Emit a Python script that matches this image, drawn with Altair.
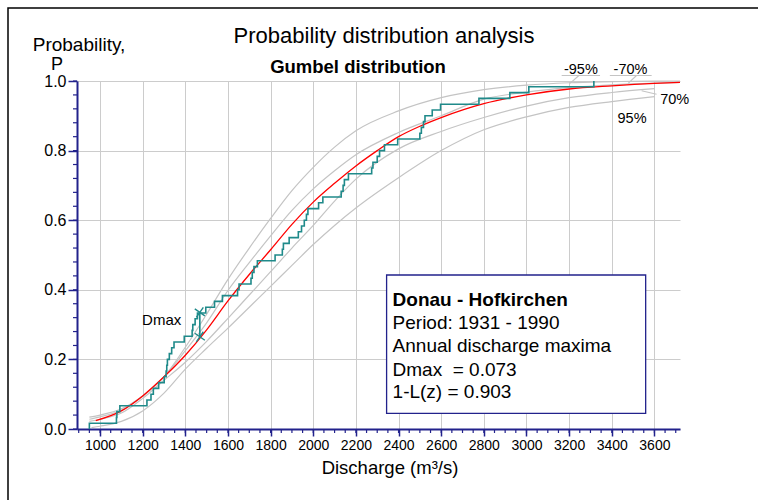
import altair as alt
import pandas as pd

# ---------------- data ----------------
# sorted annual discharge maxima (m3/s), 1931-1990
discharge_sorted = [950, 1077, 1079, 1093, 1220, 1239, 1250, 1275, 1301, 1310,
                    1313, 1316, 1325, 1336, 1347, 1395, 1432, 1435, 1446, 1457,
                    1496, 1537, 1574, 1645, 1652, 1708, 1714, 1722, 1738, 1821,
                    1855, 1860, 1887, 1930, 1945, 1958, 1968, 1975, 2025, 2045,
                    2131, 2140, 2146, 2165, 2274, 2280, 2300, 2311, 2334, 2396,
                    2500, 2507, 2517, 2524, 2558, 2597, 2777, 2922, 3011, 3316]

# fitted Gumbel curve (red)
red_x = [980, 1100, 1200, 1300, 1400, 1500, 1600, 1700, 1800, 1900, 2000, 2100,
         2200, 2300, 2400, 2500, 2600, 2800, 3000, 3200, 3400, 3600, 3720]
red_p = [0.024, 0.052, 0.095, 0.150, 0.212, 0.285, 0.368, 0.444, 0.515, 0.588,
         0.652, 0.706, 0.756, 0.800, 0.840, 0.870, 0.895, 0.935, 0.960, 0.977,
         0.986, 0.993, 0.996]

# confidence curves (grey)
gx = [950, 1000, 1100, 1200, 1300, 1400, 1500, 1600, 1700, 1800, 1900, 2000,
      2100, 2200, 2400, 2600, 2800, 3000, 3200, 3400, 3600, 3720]
g95u_p = [0.034, 0.040, 0.058, 0.095, 0.150, 0.235, 0.330, 0.430, 0.520, 0.605,
          0.685, 0.752, 0.810, 0.857, 0.914, 0.952, 0.975, 0.988, 0.995, 0.998,
          1.0, 1.0]
g70u_p = [0.028, 0.035, 0.054, 0.094, 0.150, 0.225, 0.305, 0.398, 0.478, 0.555,
          0.628, 0.690, 0.742, 0.788, 0.852, 0.900, 0.948, 0.968, 0.981, 0.989,
          0.994, 0.996]
g70l_x = [950, 1000, 1100, 1200, 1300, 1400, 1500, 1600, 1700, 1800, 1900, 2000,
          2100, 2200, 2400, 2600, 2800, 3000, 3200, 3400, 3600]
g70l_p = [0.022, 0.028, 0.046, 0.088, 0.140, 0.192, 0.252, 0.318, 0.385, 0.452,
          0.520, 0.585, 0.655, 0.718, 0.805, 0.855, 0.895, 0.928, 0.952, 0.967,
          0.978]
g95l_x = [960, 1000, 1100, 1200, 1300, 1400, 1500, 1600, 1700, 1800, 1900, 2000,
          2100, 2200, 2400, 2600, 2800, 3000, 3200, 3400, 3600]
g95l_p = [0.004, 0.008, 0.022, 0.052, 0.103, 0.172, 0.232, 0.290, 0.350, 0.410,
          0.470, 0.530, 0.585, 0.635, 0.722, 0.800, 0.860, 0.897, 0.924, 0.941,
          0.955]

x_ticks = [1000, 1200, 1400, 1600, 1800, 2000, 2200, 2400, 2600, 2800, 3000,
           3200, 3400, 3600]
y_ticks = [0.0, 0.2, 0.4, 0.6, 0.8, 1.0]
x_minor = list(range(900, 3701, 50))
y_minor = [round(i * 0.04, 2) for i in range(26)]

dmax_x = 1468
dmax_lo = 0.265
dmax_hi = 0.335

legend_lines = ["Donau - Hofkirchen", "Period: 1931 - 1990",
                "Annual discharge maxima", "Dmax\u00a0 = 0.073", "1-L(z) = 0.903"]

# ---------------- styling ----------------
FONT = "Liberation Sans"
NAVY = "#22228c"
GRID = "#cccccc"
GREYC = "#c4c4c4"
TEAL = "#1f8a8a"

W, H = 603, 348
XS = alt.Scale(domain=[892, 3720], nice=False, zero=False)
YS = alt.Scale(domain=[0, 1], nice=False, zero=False)

x_axis = alt.Axis(values=x_ticks, title=None, format="d", grid=True, gridColor=GRID,
                  gridWidth=1, tickSize=7, tickColor=NAVY, tickWidth=1.5,
                  domainColor=NAVY, domainWidth=2, labelFont=FONT, labelFontSize=14,
                  labelColor="black", labelPadding=2, labelFlush=False,
                  labelOverlap=False)
y_axis = alt.Axis(values=y_ticks, title=None, format=".1f", grid=True, gridColor=GRID,
                  gridWidth=1, tickSize=9, tickColor=NAVY, tickWidth=1.5,
                  domainColor=NAVY, domainWidth=2, labelFont=FONT, labelFontSize=16,
                  labelColor="black", labelPadding=2, labelFlush=False)


def X(field="x"):
    return alt.X(f"{field}:Q", scale=XS, axis=x_axis)


def Y(field="p"):
    return alt.Y(f"{field}:Q", scale=YS, axis=y_axis)


# grey confidence curves
rows = []
for name, xs, ps in [("-95%", gx, g95u_p), ("-70%", gx, g70u_p),
                     ("70%", g70l_x, g70l_p), ("95%", g95l_x, g95l_p)]:
    for xv, pv in zip(xs, ps):
        rows.append({"x": xv, "p": pv, "curve": name})
grey_df = pd.DataFrame(rows)

grey = alt.Chart(grey_df).mark_line(color=GREYC, strokeWidth=1.2, interpolate="monotone").encode(
    x=X(), y=Y(), detail="curve:N")

red_df = pd.DataFrame({"x": red_x, "p": red_p})
red = alt.Chart(red_df).mark_line(color="#ff0000", strokeWidth=1.3, interpolate="monotone").encode(
    x=X(), y=Y())

# empirical distribution (step line)
n = len(discharge_sorted)
step_df = pd.DataFrame({"x": [discharge_sorted[0]] + discharge_sorted,
                        "p": [0.0] + [(i + 1) / n for i in range(n)]})
step_df["i"] = range(len(step_df))
step = alt.Chart(step_df).mark_line(color=TEAL, strokeWidth=1.6, interpolate="step-after").encode(
    x=X(), y=Y(), order="i:Q")

# Dmax marker
dmax_df = pd.DataFrame({"x": [dmax_x], "p": [dmax_lo], "p2": [dmax_hi]})
dmax_rule = alt.Chart(dmax_df).mark_rule(color=TEAL, strokeWidth=1.6).encode(
    x=X(), y=Y(), y2="p2:Q")
cross_df = pd.DataFrame({"x": [dmax_x, dmax_x], "p": [dmax_lo, dmax_hi]})
crosses = alt.Chart(cross_df).mark_point(
    shape="M-1,0L1,0M0,-1L0,1", size=150, angle=35, filled=False,
    color=TEAL, strokeWidth=1.4, opacity=1).encode(x=X(), y=Y())

dmax_lbl = alt.Chart(pd.DataFrame({"x": [1289], "p": [0.299], "t": ["Dmax"]})).mark_text(
    font=FONT, fontSize=15, color="black", align="center", baseline="alphabetic").encode(
    x=X(), y=Y(), text="t:N")

# minor ticks
xminor = alt.Chart(pd.DataFrame({"x": x_minor})).mark_rule(color=NAVY, strokeWidth=1.2).encode(
    x=X(), y=alt.value(H), y2=alt.value(H + 4))
yminor = alt.Chart(pd.DataFrame({"p": y_minor})).mark_rule(color=NAVY, strokeWidth=1.2).encode(
    y=Y(), x=alt.value(-4), x2=alt.value(0))

# percent labels and leader lines
pct_df = pd.DataFrame({"x": [3255, 3488, 3695, 3495], "p": [1.0187, 1.0187, 0.934, 0.879],
                       "t": ["-95%", "-70%", "70%", "95%"]})
pct = alt.Chart(pct_df).mark_text(font=FONT, fontSize=14.5, color="black", align="center",
                                  baseline="alphabetic").encode(x=X(), y=Y(), text="t:N")
lead_df = pd.DataFrame({"x": [3204, 3165, 3477, 3391, 3540],
                        "x2": [3246, 3345, 3516, 3587, 3610],
                        "p": [0.9934, 1.0158, 0.9934, 1.0158, 0.972],
                        "p2": [1.0158, 1.0158, 1.0158, 1.0158, 0.962]})
leads = alt.Chart(lead_df).mark_rule(color=GREYC, strokeWidth=1.1).encode(
    x=X(), x2="x2:Q", y=Y(), y2="p2:Q")

# info box
box = alt.Chart(pd.DataFrame({"x": [2344], "x2": [3559], "p": [0.4425], "p2": [0.0451]})).mark_rect(
    fill="white", stroke=NAVY, strokeWidth=1.3).encode(x=X(), x2="x2:Q", y=Y(), y2="p2:Q")
box_bold = alt.Chart(pd.DataFrame({"x": [2372], "p": [0.3543], "t": [legend_lines[0]]})).mark_text(
    font=FONT, fontSize=19, fontWeight="bold", color="black", align="left",
    baseline="alphabetic").encode(x=X(), y=Y(), text="t:N")
box_txt = alt.Chart(pd.DataFrame({"x": [2372] * 4, "p": [0.2874, 0.2221, 0.1532, 0.0882],
                                  "t": legend_lines[1:]})).mark_text(
    font=FONT, fontSize=19, color="black", align="left", baseline="alphabetic").encode(
    x=X(), y=Y(), text="t:N")


# titles (outside the plot area; positions relative to the plot's top-left corner)
def label(text, px, py, size, weight="normal", align="center"):
    return alt.Chart(pd.DataFrame({"t": [text]})).mark_text(
        font=FONT, fontSize=size, fontWeight=weight, color="black", align=align,
        baseline="alphabetic").encode(x=alt.value(px), y=alt.value(py), text="t:N")


title = label("Probability distribution analysis", 307, -38, 22)
subtitle = label("Gumbel distribution", 281, -8, 18.5, weight="bold")
ylab1 = label("Probability,", 2, -30, 19)
ylab2 = label("P", -20, -11, 18)
xlab = label("Discharge (m\u00b3/s)", 313, 393, 18.5)

frame = alt.Chart(pd.DataFrame({"t": [0]})).mark_rect(
    fill=None, stroke="black", strokeWidth=1.5).encode(
    x=alt.value(-69), y=alt.value(-73), x2=alt.value(720), y2=alt.value(460))

chart = alt.layer(
    grey, red, step, dmax_rule, crosses, dmax_lbl, xminor, yminor, leads, pct,
    box, box_bold, box_txt, title, subtitle, ylab1, ylab2, xlab, frame
).properties(
    width=W, height=H,
    autosize=alt.AutoSizeParams(type="none"),
    padding={"left": 77, "top": 81, "right": 78, "bottom": 71},
    background="white",
).configure_view(stroke=None)

chart.save("out.html", embed_options={"renderer": "svg", "actions": False})
